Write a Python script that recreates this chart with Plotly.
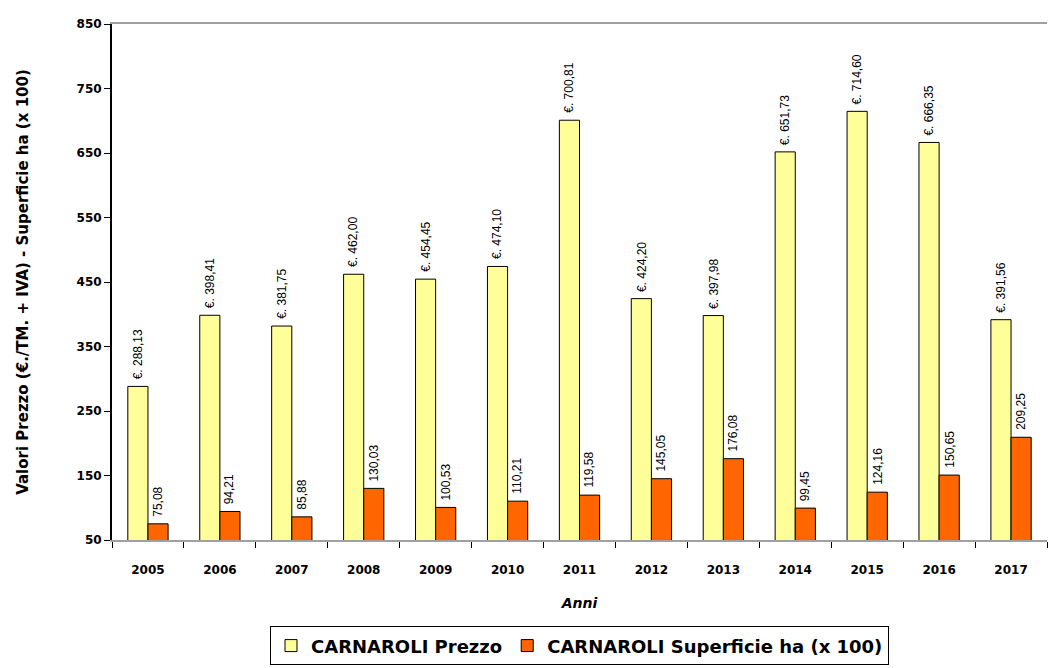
import plotly.graph_objects as go

anni = ["2005", "2006", "2007", "2008", "2009", "2010", "2011", "2012", "2013", "2014", "2015", "2016", "2017"]
prezzo = [288.13, 398.41, 381.75, 462.00, 454.45, 474.10, 700.81, 424.20, 397.98, 651.73, 714.60, 666.35, 391.56]
superficie = [75.08, 94.21, 85.88, 130.03, 100.53, 110.21, 119.58, 145.05, 176.08, 99.45, 124.16, 150.65, 209.25]


def it(v):
    return f"{v:.2f}".replace(".", ",")


fig = go.Figure()
fig.add_trace(go.Bar(
    x=anni, y=prezzo, name="CARNAROLI Prezzo",
    marker=dict(color="#FFFF99", line=dict(color="#000000", width=1)),
))
fig.add_trace(go.Bar(
    x=anni, y=superficie, name="CARNAROLI Superficie ha (x 100)",
    marker=dict(color="#FF6600", line=dict(color="#000000", width=1)),
))

lab_font = dict(family="Liberation Sans", size=12, color="#000000")
for i, (p, s) in enumerate(zip(prezzo, superficie)):
    fig.add_annotation(x=i, y=p, text="€. " + it(p), textangle=-90, showarrow=False,
                       xanchor="center", yanchor="bottom", xshift=-10, yshift=5, font=lab_font)
    fig.add_annotation(x=i, y=s, text=it(s), textangle=-90, showarrow=False,
                       xanchor="center", yanchor="bottom", xshift=10, yshift=5, font=lab_font)

fig.update_layout(
    width=1050, height=668,
    margin=dict(l=112, r=3, t=24, b=125),
    paper_bgcolor="white", plot_bgcolor="white",
    barmode="group", bargap=0.44, bargroupgap=0,
    font=dict(family="DejaVu Sans", color="#000000"),
    legend=dict(
        orientation="h", x=0.5, xanchor="center", y=-0.243, yanchor="bottom",
        bordercolor="#000000", borderwidth=1,
        font=dict(family="DejaVu Sans", size=18, weight="bold"),
        itemwidth=30, tracegroupgap=0,
    ),
    xaxis=dict(
        type="category", showline=True, linecolor="#A0A0A0", linewidth=2, mirror=True,
        ticks="outside", tickson="boundaries", ticklen=6, tickcolor="#000000", tickwidth=1,
        ticklabelstandoff=18,
        tickfont=dict(family="DejaVu Sans", size=12, weight="bold"),
        title=dict(text="Anni", font=dict(family="DejaVu Sans", size=14, weight="bold", style="italic"), standoff=22),
        showgrid=False, automargin=False,
    ),
    yaxis=dict(
        range=[50, 850], tick0=50, dtick=100, showline=True, linecolor="#000000", linewidth=2,
        ticks="outside", ticklen=6, tickcolor="#000000", tickwidth=1,
        tickfont=dict(family="DejaVu Sans", size=12, weight="bold"),
        title=dict(text="Valori Prezzo (€./TM. + IVA) - Superficie ha (x 100)",
                   font=dict(family="DejaVu Sans", size=15, weight="bold"), standoff=44),
        showgrid=False, zeroline=False, automargin=False,
    ),
)

fig.write_html("out.html")
